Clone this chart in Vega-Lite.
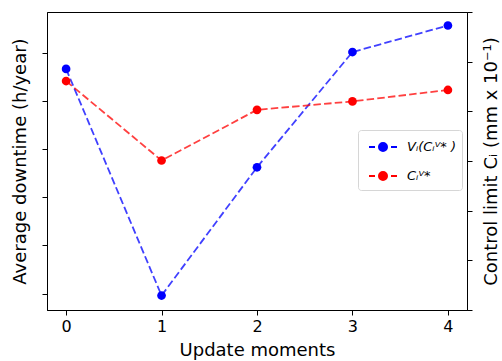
{
  "$schema": "https://vega.github.io/schema/vega-lite/v6.json",
  "width": 420,
  "height": 298,
  "autosize": {"type": "none"},
  "padding": {"left": 47, "top": 12, "right": 35, "bottom": 51},
  "background": "white",
  "config": {
    "font": "DejaVu Sans",
    "view": {"stroke": "black", "strokeWidth": 1},
    "axis": {
      "grid": false,
      "domainColor": "black",
      "tickColor": "black",
      "labelColor": "black",
      "titleColor": "black",
      "titleFontWeight": "normal",
      "titleFont": "DejaVu Sans",
      "labelFont": "DejaVu Sans",
      "titleFontSize": 18,
      "labelFontSize": 16,
      "tickSize": 5,
      "domainWidth": 1,
      "tickWidth": 1
    },
    "legend": {
      "orient": "none",
      "legendX": 311,
      "legendY": 118,
      "padding": 6,
      "fillColor": "white",
      "strokeColor": "#d6d6d6",
      "cornerRadius": 3,
      "symbolType": "M-0.6,0H0M0.4,0A0.4,0.4 0 1,1 1.2,0A0.4,0.4 0 1,1 0.4,0M1.6,0H2.2",
      "symbolSize": 400,
      "symbolStrokeWidth": 2,
      "symbolOpacity": 1,
      "labelFont": "DejaVu Sans",
      "labelFontSize": 13,
      "labelFontStyle": "italic",
      "labelColor": "black",
      "labelOffset": 21,
      "rowPadding": 10
    }
  },
  "data": {
    "values": [
      {"moment": 0, "series": "V", "value": 5.66},
      {"moment": 1, "series": "V", "value": 0.96},
      {"moment": 2, "series": "V", "value": 3.62},
      {"moment": 3, "series": "V", "value": 6.01},
      {"moment": 4, "series": "V", "value": 6.56},
      {"moment": 0, "series": "C", "value": 4.61},
      {"moment": 1, "series": "C", "value": 3.01},
      {"moment": 2, "series": "C", "value": 4.03},
      {"moment": 3, "series": "C", "value": 4.20},
      {"moment": 4, "series": "C", "value": 4.43}
    ]
  },
  "encoding": {
    "x": {
      "field": "moment",
      "type": "quantitative",
      "scale": {"domain": [-0.2, 4.2], "nice": false, "zero": false},
      "axis": {"values": [0, 1, 2, 3, 4], "format": "d", "title": "Update moments", "labelPadding": 3, "titlePadding": 7, "labelFlush": false}
    },
    "color": {
      "field": "series",
      "type": "nominal",
      "scale": {"domain": ["V", "C"], "range": ["#0000ff", "#ff0000"]},
      "legend": {
        "title": null,
        "labelExpr": "datum.value == 'V' ? 'Vᵢ(Cᵢⱽ* )' : 'Cᵢⱽ*'",
        "encode": {
          "symbols": {
            "update": {
              "fill": {"scale": "color", "field": "value"},
              "stroke": {"scale": "color", "field": "value"},
              "strokeDash": {"value": []},
              "opacity": {"value": 1},
              "fillOpacity": {"value": 1},
              "strokeOpacity": {"value": 1}
            }
          }
        }
      }
    }
  },
  "layer": [
    {
      "transform": [{"filter": "datum.series == 'V'"}],
      "encoding": {
        "y": {
          "field": "value",
          "type": "quantitative",
          "scale": {"domain": [0.66, 6.84], "nice": false, "zero": false},
          "axis": {"orient": "left", "values": [1, 2, 3, 4, 5, 6], "labels": false, "title": "Average downtime (h/year)", "titlePadding": 12}
        }
      },
      "layer": [
        {"mark": {"type": "line", "strokeDash": [7.5, 3.2], "strokeWidth": 1.8, "opacity": 0.75}},
        {"mark": {"type": "point", "filled": true, "size": 76, "opacity": 1}}
      ]
    },
    {
      "transform": [{"filter": "datum.series == 'C'"}],
      "encoding": {
        "y": {
          "field": "value",
          "type": "quantitative",
          "scale": {"domain": [0, 6], "nice": false, "zero": false},
          "axis": {"orient": "right", "values": [0, 1, 2, 3, 4, 5, 6], "labels": false, "title": "Control limit Cᵢ (mm x 10⁻¹)", "titlePadding": 10, "titleAngle": 270, "titleBaseline": "top"}
        }
      },
      "layer": [
        {"mark": {"type": "line", "strokeDash": [7.5, 3.2], "strokeWidth": 1.8, "opacity": 0.75}},
        {"mark": {"type": "point", "filled": true, "size": 76, "opacity": 1}}
      ]
    }
  ],
  "resolve": {"scale": {"y": "independent"}}
}
